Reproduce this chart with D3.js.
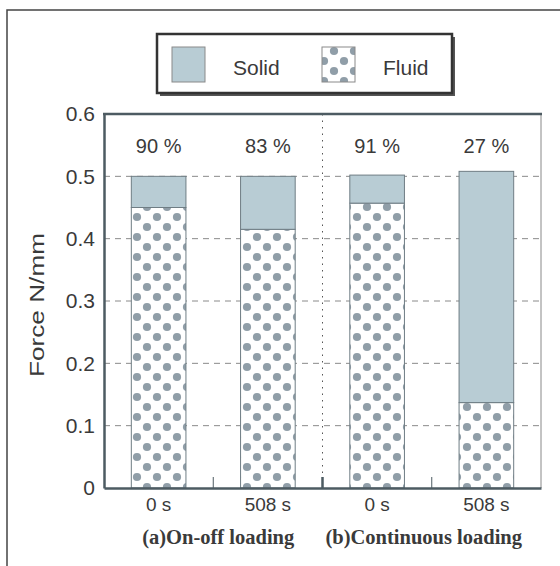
<!DOCTYPE html>
<html>
<head>
<meta charset="utf-8">
<script src="https://cdn.jsdelivr.net/npm/d3@7"></script>
<style>
  body { margin: 0; background: #fff; }
  svg { display: block; }
  text { fill: #3a3a3a; }
</style>
</head>
<body>
<div id="chart"></div>
<script>
const WIDTH = 560;
const HEIGHT = 566;

// data
const bars = ['a0', 'a508', 'b0', 'b508'];
const barLabels = ['0 s', '508 s', '0 s', '508 s'];
const totalForce = [0.500, 0.500, 0.502, 0.508];
const fluidForce = [0.450, 0.415, 0.457, 0.137];
const percentLabels = ['90 %', '83 %', '91 %', '27 %'];
const groups = ['(a)On-off loading', '(b)Continuous loading'];
const groupBars = [['a0', 'a508'], ['b0', 'b508']];
const yTicks = [0, 0.1, 0.2, 0.3, 0.4, 0.5, 0.6];
const yTickLabels = ['0', '0.1', '0.2', '0.3', '0.4', '0.5', '0.6'];

const SANS = '"Liberation Sans", Arial, sans-serif';
const SERIF = '"Liberation Serif", "Times New Roman", serif';
const SOLID = '#b8ccd4';
const DOT = '#909ea8';
const AXIS = '#4d5b62';

const plot = { left: 104, right: 541, top: 114, bottom: 488 };

const x = d3.scaleBand()
  .domain(bars)
  .range([plot.left, plot.right])
  .paddingInner(0.5)
  .paddingOuter(0.25);

const y = d3.scaleLinear().domain([0, 0.6]).range([plot.bottom, plot.top]);

const svg = d3.select('#chart')
  .append('svg')
  .attr('width', WIDTH)
  .attr('height', HEIGHT)
  .style('font-family', SANS);

const defs = svg.append('defs');
const pattern = defs.append('pattern')
  .attr('id', 'dots')
  .attr('patternUnits', 'userSpaceOnUse')
  .attr('width', 20)
  .attr('height', 20)
  .attr('x', 2)
  .attr('y', 2);
pattern.append('rect').attr('width', 20).attr('height', 20).attr('fill', '#fff');
[[5, 5], [15, 15]].forEach(([cx, cy]) => {
  pattern.append('circle').attr('cx', cx).attr('cy', cy).attr('r', 4.1).attr('fill', DOT);
});

// outer frame (left & top only visible)
svg.append('path')
  .attr('d', `M7,${HEIGHT} V10 H${WIDTH}`)
  .attr('fill', 'none')
  .attr('stroke', '#444')
  .attr('stroke-width', 1.5);

// grid
svg.append('g')
  .selectAll('line')
  .data(yTicks.filter(d => d > 0 && d < 0.6))
  .join('line')
  .attr('x1', plot.left)
  .attr('x2', plot.right)
  .attr('y1', d => y(d))
  .attr('y2', d => y(d))
  .attr('stroke', '#8a8a8a')
  .attr('stroke-width', 1)
  .attr('stroke-dasharray', '6,5');

// group divider
const bound = (a, b) => (x(a) + x.bandwidth() + x(b)) / 2;
svg.append('line')
  .attr('x1', bound('a508', 'b0'))
  .attr('x2', bound('a508', 'b0'))
  .attr('y1', plot.top)
  .attr('y2', plot.bottom)
  .attr('stroke', '#555')
  .attr('stroke-width', 1)
  .attr('stroke-dasharray', '1.5,5');

// bars
const barG = svg.append('g');
bars.forEach((key, i) => {
  barG.append('rect')
    .attr('x', x(key))
    .attr('width', x.bandwidth())
    .attr('y', y(fluidForce[i]))
    .attr('height', y(0) - y(fluidForce[i]))
    .attr('fill', 'url(#dots)')
    .attr('stroke', '#6f7d84')
    .attr('stroke-width', 1);
  barG.append('rect')
    .attr('x', x(key))
    .attr('width', x.bandwidth())
    .attr('y', y(totalForce[i]))
    .attr('height', y(fluidForce[i]) - y(totalForce[i]))
    .attr('fill', SOLID)
    .attr('stroke', '#6f7d84')
    .attr('stroke-width', 1);
  svg.append('text')
    .attr('x', x(key) + x.bandwidth() / 2)
    .attr('y', 153)
    .attr('text-anchor', 'middle')
    .attr('font-size', 20)
    .text(percentLabels[i]);
});

// plot border
svg.append('line')
  .attr('x1', plot.right).attr('x2', plot.right)
  .attr('y1', plot.top).attr('y2', plot.bottom)
  .attr('stroke', '#888').attr('stroke-width', 1);
svg.append('line')
  .attr('x1', plot.left - 1).attr('x2', plot.right + 1)
  .attr('y1', plot.top).attr('y2', plot.top)
  .attr('stroke', AXIS).attr('stroke-width', 2.5);

// y axis
const yAxis = d3.axisLeft(y)
  .tickValues(yTicks)
  .tickFormat((d, i) => yTickLabels[i])
  .tickSize(0)
  .tickPadding(9);
const yg = svg.append('g')
  .attr('transform', `translate(${plot.left},0)`)
  .call(yAxis);
yg.select('.domain').attr('stroke', AXIS).attr('stroke-width', 2.5);
yg.selectAll('text')
  .attr('font-size', 21)
  .style('font-family', SANS)
  .style('fill', '#3a3a3a');

// x axis
const xAxis = d3.axisBottom(x)
  .tickFormat((d, i) => barLabels[i])
  .tickSize(0)
  .tickPadding(10);
const xg = svg.append('g')
  .attr('transform', `translate(0,${plot.bottom})`)
  .call(xAxis);
xg.select('.domain').attr('stroke', AXIS).attr('stroke-width', 2.5);
xg.selectAll('text')
  .attr('font-size', 19)
  .style('font-family', SANS)
  .style('fill', '#3a3a3a');

// separator ticks between bars
[['a0', 'a508', 1], ['a508', 'b0', 2.5], ['b0', 'b508', 1]].forEach(([a, b, w]) => {
  svg.append('line')
    .attr('x1', bound(a, b)).attr('x2', bound(a, b))
    .attr('y1', plot.bottom).attr('y2', plot.bottom - 11)
    .attr('stroke', AXIS).attr('stroke-width', w);
});

// group labels
const groupOffset = [5, -8];
groups.forEach((g, i) => {
  const [a, b] = groupBars[i];
  svg.append('text')
    .attr('x', (x(a) + x(b) + x.bandwidth()) / 2 + groupOffset[i])
    .attr('y', 544)
    .attr('text-anchor', 'middle')
    .style('font-family', SERIF)
    .style('font-weight', 'bold')
    .attr('font-size', 20.5)
    .text(g);
});

// y label
svg.append('text')
  .attr('transform', 'translate(44,305) rotate(-90)')
  .attr('text-anchor', 'middle')
  .attr('font-size', 20)
  .attr('textLength', 144)
  .attr('lengthAdjust', 'spacingAndGlyphs')
  .text('Force  N/mm');

// legend
const legend = svg.append('g').attr('transform', 'translate(157,34)');
legend.append('rect')
  .attr('x', 3).attr('y', 3).attr('width', 295).attr('height', 59)
  .attr('fill', '#555');
legend.append('rect')
  .attr('width', 295).attr('height', 59)
  .attr('fill', '#fff')
  .attr('stroke', '#333')
  .attr('stroke-width', 2.5);
const legendItems = [
  { label: 'Solid', fill: SOLID, sx: 15, tx: 76 },
  { label: 'Fluid', fill: 'url(#dots)', sx: 165, tx: 226 },
];
legendItems.forEach(d => {
  legend.append('rect')
    .attr('x', d.sx).attr('y', 13)
    .attr('width', 33).attr('height', 35)
    .attr('fill', d.fill)
    .attr('stroke', '#8a8a8a')
    .attr('stroke-width', 1);
  legend.append('text')
    .attr('x', d.tx).attr('y', 41)
    .attr('font-size', 21)
    .text(d.label);
});
</script>
</body>
</html>
